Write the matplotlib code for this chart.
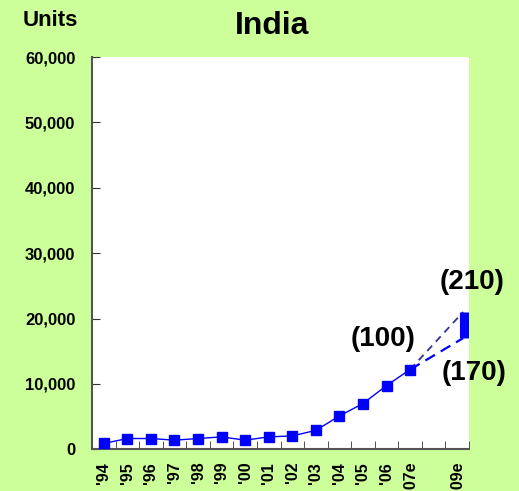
import numpy as np
import matplotlib
matplotlib.use("Agg")
import matplotlib.pyplot as plt

# datos
years = ["'94", "'95", "'96", "'97", "'98", "'99", "'00", "'01", "'02", "'03",
         "'04", "'05", "'06", "'07e", "", "'09e"]
units = [900, 1650, 1650, 1400, 1650, 1900, 1400, 1900, 2050, 2900,
         5100, 7000, 9750, 12200]
high_09e = 21000
low_09e = 17000
notes = ["(210)", "(100)", "(170)"]

bg = "#ccff99"
plt.rcParams["font.family"] = ["Liberation Sans", "DejaVu Sans"]
plt.rcParams["font.weight"] = "bold"

fig = plt.figure(figsize=(5.19, 4.91), dpi=100, facecolor=bg)
ax = fig.add_axes([0.1773, 0.0849, 0.7264, 0.799])
ax.set_facecolor("white")

x = np.arange(len(units))
ax.plot(x, units, color="#0000ff", lw=1, marker="s", ms=6.5, zorder=3)

# proyecciones '09e
x_end = len(years) - 0.75
x07 = x[-1]
ax.plot([x07, x_end], [units[-1], high_09e], color="#333399", lw=1.3,
        ls=(0, (4, 3)), zorder=2)
ax.plot([x07, x_end], [units[-1], low_09e], color="#0000ff", lw=1.6,
        ls=(0, (5, 3)), zorder=2)
ax.vlines(x_end + 0.08, low_09e, high_09e, color="#0000ff", lw=8, zorder=3)

ax.set_xlim(-0.5, len(years) - 0.5)
ax.set_ylim(0, 60000)
ax.set_yticks(np.arange(0, 60001, 10000))
ax.set_yticklabels(["{:,}".format(v) for v in range(0, 60001, 10000)],
                   fontsize=12, fontweight="bold")
ax.set_xticks(np.arange(len(years)))
ax.set_xticklabels(years, rotation=90, fontsize=11.5, fontweight="bold")
ax.set_xticks(np.arange(0.5, len(years), 1), minor=True)
ax.tick_params(axis="x", which="major", length=0, pad=9)
ax.tick_params(axis="x", which="minor", direction="in", length=6, color="#333333")
ax.tick_params(axis="y", direction="in", length=6, pad=12, color="#333333")

for s in ["top", "right"]:
    ax.spines[s].set_visible(False)
for s in ["left", "bottom"]:
    ax.spines[s].set_color("#555555")
    ax.spines[s].set_linewidth(1.5)

ax.text(15.63, 25600, notes[0], fontsize=20, fontweight="bold", ha="center", va="center")
ax.text(11.85, 16800, notes[1], fontsize=20, fontweight="bold", ha="center", va="center")
ax.text(15.71, 11700, notes[2], fontsize=20, fontweight="bold", ha="center", va="center")

fig.text(272 / 519, 1 - 26 / 491, "India", fontsize=23, fontweight="bold",
         ha="center", va="center")
fig.text(50 / 519, 1 - 20 / 491, "Units", fontsize=16, fontweight="bold",
         ha="center", va="center")

fig.savefig("out.png", dpi=100, facecolor=bg)
